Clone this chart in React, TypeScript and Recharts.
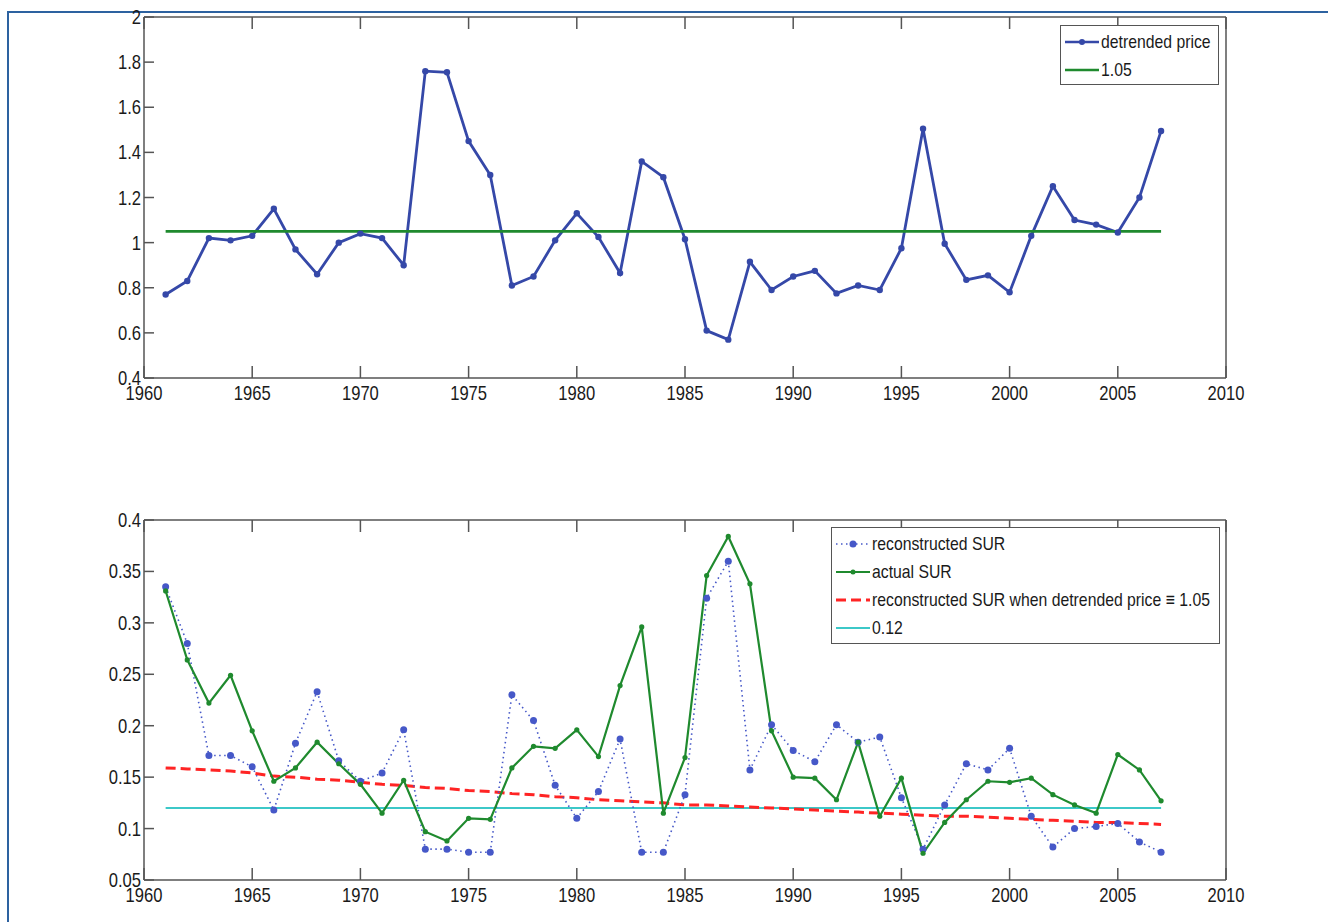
import React from 'react';
import { LineChart, Line, XAxis, YAxis, Legend } from 'recharts';

const years = [
  1961, 1962, 1963, 1964, 1965, 1966, 1967, 1968, 1969, 1970, 1971, 1972, 1973, 1974, 1975, 1976,
  1977, 1978, 1979, 1980, 1981, 1982, 1983, 1984, 1985, 1986, 1987, 1988, 1989, 1990, 1991, 1992,
  1993, 1994, 1995, 1996, 1997, 1998, 1999, 2000, 2001, 2002, 2003, 2004, 2005, 2006, 2007,
];

const detrendedPrice = [
  0.77, 0.83, 1.02, 1.01, 1.03, 1.15, 0.97, 0.86, 1.0, 1.04, 1.02, 0.9, 1.76, 1.755, 1.45, 1.3,
  0.81, 0.85, 1.01, 1.13, 1.025, 0.865, 1.36, 1.29, 1.015, 0.61, 0.57, 0.915, 0.79, 0.85, 0.875, 0.775,
  0.81, 0.79, 0.975, 1.505, 0.995, 0.835, 0.855, 0.78, 1.03, 1.25, 1.1, 1.08, 1.045, 1.2, 1.495,
];
const priceLevel = 1.05;

const reconstructedSur = [
  0.335, 0.28, 0.171, 0.171, 0.16, 0.118, 0.183, 0.233, 0.166, 0.146, 0.154, 0.196, 0.08, 0.08, 0.077, 0.077,
  0.23, 0.205, 0.142, 0.11, 0.136, 0.187, 0.077, 0.077, 0.133, 0.324, 0.36, 0.157, 0.201, 0.176, 0.165, 0.201,
  0.184, 0.189, 0.13, 0.08, 0.123, 0.163, 0.157, 0.178, 0.112, 0.082, 0.1, 0.102, 0.105, 0.087, 0.077,
];
const actualSur = [
  0.331, 0.264, 0.222, 0.249, 0.195, 0.146, 0.159, 0.184, 0.163, 0.143, 0.115, 0.147, 0.097, 0.088, 0.11, 0.109,
  0.159, 0.18, 0.178, 0.196, 0.17, 0.239, 0.296, 0.115, 0.169, 0.346, 0.384, 0.338, 0.195, 0.15, 0.149, 0.128,
  0.184, 0.112, 0.149, 0.076, 0.106, 0.128, 0.146, 0.145, 0.149, 0.133, 0.123, 0.115, 0.172, 0.157, 0.127,
];
const surAtPriceLevel = [
  0.159, 0.158, 0.157, 0.156, 0.154, 0.151, 0.15, 0.148, 0.147, 0.145, 0.143, 0.142, 0.14, 0.139, 0.137, 0.136,
  0.134, 0.133, 0.131, 0.13, 0.128, 0.127, 0.126, 0.125, 0.123, 0.123, 0.122, 0.121, 0.12, 0.119, 0.118, 0.117,
  0.116, 0.115, 0.114, 0.113, 0.112, 0.112, 0.111, 0.11, 0.109, 0.108, 0.107, 0.106, 0.106, 0.105, 0.104,
];
const surLevel = 0.12;

const yearTicks = [1960, 1965, 1970, 1975, 1980, 1985, 1990, 1995, 2000, 2005, 2010];
const priceTicks = [0.4, 0.6, 0.8, 1, 1.2, 1.4, 1.6, 1.8, 2];
const surTicks = [0.05, 0.1, 0.15, 0.2, 0.25, 0.3, 0.35, 0.4];

const priceRows = years.map((year, i) => ({ year, price: detrendedPrice[i], level: priceLevel }));
const surRows = years.map((year, i) => ({
  year,
  rec: reconstructedSur[i],
  act: actualSur[i],
  fixed: surAtPriceLevel[i],
  level: surLevel,
}));

// no narrow font installed, so squeeze Liberation Sans horizontally
const FONT = '"Liberation Sans", Arial, sans-serif';
const SQUEEZE = 0.83;
const AXIS = '#555';
const BLUE = '#3548a8';
const DOT_BLUE = '#4658c8';
const GREEN = '#1f8a2e';
const RED = '#ff2424';
const CYAN = '#3cc8c8';

function Label({ x, y, anchor, children }: any) {
  return (
    <text
      transform={`translate(${x},${y}) scale(${SQUEEZE},1)`}
      textAnchor={anchor}
      fontFamily={FONT}
      fontSize={20}
      fill="#1a1a1a"
    >
      {children}
    </text>
  );
}

// matlab style: ticks point into the box, labels outside
function BottomTick({ x, y, payload }: any) {
  return (
    <g>
      <line x1={x} x2={x} y1={y} y2={y - 12} stroke={AXIS} strokeWidth={1.5} />
      <Label x={x} y={y + 22} anchor="middle">
        {payload.value}
      </Label>
    </g>
  );
}
function TopTick({ x, y }: any) {
  return <line x1={x} x2={x} y1={y} y2={y + 12} stroke={AXIS} strokeWidth={1.5} />;
}
function LeftTick({ x, y, payload }: any) {
  return (
    <g>
      <line x1={x} x2={x + 10} y1={y} y2={y} stroke={AXIS} strokeWidth={1.5} />
      <Label x={x - 3} y={y + 7} anchor="end">
        {payload.value}
      </Label>
    </g>
  );
}
function RightTick({ x, y }: any) {
  return <line x1={x} x2={x - 10} y1={y} y2={y} stroke={AXIS} strokeWidth={1.5} />;
}

type Item = { label: string; color: string; dash?: string; width: number; dot?: number };

function LegendBox({ items, width, height }: { items: Item[]; width: number; height: number }) {
  return (
    <div
      style={{
        width,
        height,
        boxSizing: 'border-box',
        border: `1.5px solid ${AXIS}`,
        background: '#fff',
        padding: '2px 3px',
        fontFamily: FONT,
        fontSize: 19,
        color: '#1a1a1a',
      }}
    >
      {items.map((it) => (
        <div key={it.label} style={{ display: 'flex', alignItems: 'center', height: 28, whiteSpace: 'nowrap' }}>
          <svg width={36} height={14} style={{ flexShrink: 0, marginRight: 1 }}>
            <line x1={1} x2={35} y1={7} y2={7} stroke={it.color} strokeWidth={it.width} strokeDasharray={it.dash} />
            {it.dot ? <circle cx={18} cy={7} r={it.dot} fill={it.color} /> : null}
          </svg>
          <span style={{ display: 'inline-block', transform: `scaleX(${SQUEEZE})`, transformOrigin: 'left center' }}>
            {it.label}
          </span>
        </div>
      ))}
    </div>
  );
}

const axisLine = { stroke: AXIS, strokeWidth: 1.5 };

export default function App() {
  const xCommon = {
    dataKey: 'year',
    type: 'number' as const,
    domain: [1960, 2010],
    ticks: yearTicks,
    interval: 0,
    tickSize: 0,
    tickMargin: 0,
    tickLine: false,
    axisLine,
  };
  const yCommon = {
    type: 'number' as const,
    interval: 0,
    tickSize: 0,
    tickMargin: 0,
    tickLine: false,
    axisLine,
  };
  return (
    <div style={{ position: 'absolute', left: 0, top: 0, width: 1328, height: 922, background: '#fff' }}>
      <div style={{ position: 'absolute', left: 7, top: 11, width: 1321, height: 2, background: '#2d62a0' }} />
      <div style={{ position: 'absolute', left: 7, top: 11, width: 2, height: 911, background: '#2d62a0' }} />

      <div style={{ position: 'absolute', left: 0, top: 0 }}>
        <LineChart width={1328} height={410} data={priceRows} margin={{ top: 7, right: 92, left: 84, bottom: 2 }}>
          <XAxis {...xCommon} height={30} tick={<BottomTick />} />
          <XAxis {...xCommon} xAxisId="top" orientation="top" height={10} tick={<TopTick />} />
          <YAxis {...yCommon} domain={[0.4, 2]} ticks={priceTicks} width={60} tick={<LeftTick />} />
          <YAxis
            {...yCommon}
            yAxisId="right"
            orientation="right"
            domain={[0.4, 2]}
            ticks={priceTicks}
            width={10}
            tick={<RightTick />}
          />
          <Line
            dataKey="price"
            stroke={BLUE}
            strokeWidth={2.8}
            dot={{ r: 3.2, fill: BLUE, stroke: 'none' }}
            isAnimationActive={false}
          />
          <Line dataKey="level" stroke={GREEN} strokeWidth={2.6} dot={false} isAnimationActive={false} />
          <Legend
            verticalAlign="middle"
            align="center"
            layout="horizontal"
            wrapperStyle={{ position: 'absolute', left: 1060, top: 25, width: 159 }}
            content={() => (
              <LegendBox
                width={159}
                height={60}
                items={[
                  { label: 'detrended price', color: BLUE, width: 2.5, dot: 3 },
                  { label: '1.05', color: GREEN, width: 2.5 },
                ]}
              />
            )}
          />
        </LineChart>
      </div>

      <div style={{ position: 'absolute', left: 0, top: 480 }}>
        <LineChart width={1328} height={442} data={surRows} margin={{ top: 30, right: 92, left: 84, bottom: 12 }}>
          <XAxis {...xCommon} height={30} tick={<BottomTick />} />
          <XAxis {...xCommon} xAxisId="top" orientation="top" height={10} tick={<TopTick />} />
          <YAxis {...yCommon} domain={[0.05, 0.4]} ticks={surTicks} width={60} tick={<LeftTick />} />
          <YAxis
            {...yCommon}
            yAxisId="right"
            orientation="right"
            domain={[0.05, 0.4]}
            ticks={surTicks}
            width={10}
            tick={<RightTick />}
          />
          <Line dataKey="level" stroke={CYAN} strokeWidth={2} dot={false} isAnimationActive={false} />
          <Line
            dataKey="fixed"
            stroke={RED}
            strokeWidth={3}
            strokeDasharray="10 5"
            dot={false}
            isAnimationActive={false}
          />
          <Line
            dataKey="rec"
            stroke={DOT_BLUE}
            strokeWidth={1.6}
            strokeDasharray="1.5 3.5"
            dot={{ r: 3.5, fill: DOT_BLUE, stroke: 'none', strokeDasharray: '0' }}
            isAnimationActive={false}
          />
          <Line
            dataKey="act"
            stroke={GREEN}
            strokeWidth={2.2}
            dot={{ r: 2.6, fill: GREEN, stroke: 'none' }}
            isAnimationActive={false}
          />
          <Legend
            verticalAlign="middle"
            align="center"
            layout="horizontal"
            wrapperStyle={{ position: 'absolute', left: 831, top: 47, width: 389 }}
            content={() => (
              <LegendBox
                width={389}
                height={117}
                items={[
                  { label: 'reconstructed SUR', color: DOT_BLUE, width: 1.6, dash: '1.5 3.5', dot: 3.5 },
                  { label: 'actual SUR', color: GREEN, width: 2, dot: 2.5 },
                  { label: 'reconstructed SUR when detrended price \u2261 1.05', color: RED, width: 3, dash: '10 5' },
                  { label: '0.12', color: CYAN, width: 2 },
                ]}
              />
            )}
          />
        </LineChart>
      </div>
    </div>
  );
}
